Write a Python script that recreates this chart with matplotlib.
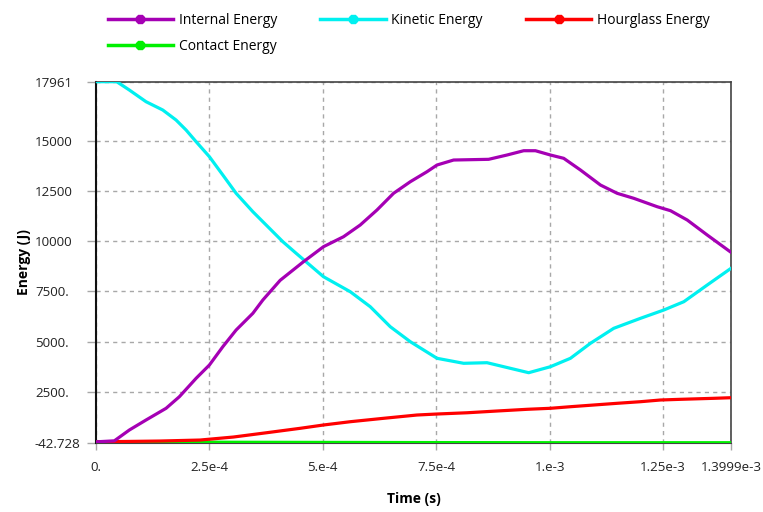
import matplotlib
matplotlib.use("Agg")
import matplotlib.pyplot as plt
from matplotlib.lines import Line2D

# time in ms (converted to s below)
t_kin = [0.0, 0.0457, 0.0735, 0.1103, 0.1472, 0.1765, 0.1986, 0.2207, 0.25, 0.2796,
         0.3089, 0.3458, 0.3824, 0.4119, 0.4413, 0.5015, 0.5605, 0.6046, 0.6487, 0.6929,
         0.7518, 0.8105, 0.862, 0.9135, 0.9539, 1.0018, 1.0459, 1.090, 1.1414, 1.2004,
         1.2518, 1.2959, 1.3475, 1.3999]
kinetic = [17961, 17961, 17546, 16963, 16549, 16050, 15551, 14968, 14220, 13307,
           12395, 11477, 10649, 9981, 9402, 8235, 7487, 6739, 5742, 4994,
           4166, 3917, 3947, 3667, 3448, 3747, 4166, 4914, 5662, 6161,
           6575, 6989, 7822, 8654]

t_int = [0.0, 0.0404, 0.0735, 0.1103, 0.1545, 0.1838, 0.2207, 0.25, 0.2796, 0.3089,
         0.3458, 0.3678, 0.406, 0.4574, 0.5015, 0.5457, 0.5825, 0.6194, 0.656, 0.6929,
         0.7297, 0.7518, 0.7884, 0.8656, 0.9062, 0.9429, 0.9687, 1.0018, 1.0311, 1.068,
         1.1121, 1.1489, 1.1856, 1.2372, 1.2666, 1.3034, 1.3475, 1.3999]
internal = [0, 50, 590, 1089, 1673, 2251, 3169, 3832, 4745, 5577,
            6410, 7073, 8056, 8983, 9732, 10230, 10814, 11562, 12395, 12973,
            13472, 13806, 14055, 14090, 14305, 14519, 14519, 14305, 14140, 13557,
            12808, 12395, 12145, 11726, 11527, 11063, 10315, 9452]

t_hg = [0.0, 0.14, 0.2295, 0.303, 0.3767, 0.4502, 0.5015, 0.5605, 0.6341, 0.7076,
        0.7518, 0.818, 0.8842, 0.9504, 1.0018, 1.0459, 1.0973, 1.1489, 1.2004, 1.2445,
        1.2886, 1.3621, 1.3999]
hourglass = [0, 40, 90, 240, 456, 675, 840, 1004, 1174, 1338,
             1388, 1450, 1538, 1623, 1673, 1752, 1837, 1922, 2002, 2087,
             2121, 2171, 2201]

t_con = [0.0, 0.3, 0.7, 1.0, 1.3999]
contact = [0, -20, -35, -42.728, -42.728]

x_ticks = [0.0, 2.5e-4, 5e-4, 7.5e-4, 1e-3, 1.25e-3, 1.3999e-3]
x_labels = ["0.", "2.5e-4", "5.e-4", "7.5e-4", "1.e-3", "1.25e-3", "1.3999e-3"]
y_ticks = [-42.728, 2500, 5000, 7500, 10000, 12500, 15000, 17961]
y_labels = ["-42.728", "2500.", "5000.", "7500.", "10000", "12500", "15000", "17961"]

names = ["Internal Energy", "Kinetic Energy", "Hourglass Energy", "Contact Energy"]
colors = ["#a500b4", "#00f0f0", "#ff0000", "#00f000"]

plt.rcParams['font.family'] = ['Open Sans', 'DejaVu Sans']

fig = plt.figure(figsize=(7.63, 5.12), dpi=100)
ax = fig.add_axes([96/763, 1-442.7/512, (731-96)/763, (442.7-81.7)/512])

s = 1e-3
lw = 2.3
ax.plot([v*s for v in t_con], contact, color=colors[3], lw=lw, zorder=3)
ax.plot([v*s for v in t_hg], hourglass, color=colors[2], lw=lw, zorder=4)
ax.plot([v*s for v in t_kin], kinetic, color=colors[1], lw=lw, zorder=5)
ax.plot([v*s for v in t_int], internal, color=colors[0], lw=lw, zorder=6)

ax.set_xlim(0, 1.3999e-3)
ax.set_ylim(-42.728, 17961)
ax.set_xticks(x_ticks)
ax.set_xticklabels(x_labels)
ax.set_yticks(y_ticks)
ax.set_yticklabels(y_labels, ha='left')
ax.grid(True, color="#a8a8a8", linestyle=(0, (3, 3)), linewidth=1)
ax.tick_params(axis='both', direction='out', color="#a8a8a8", labelsize=9.6,
               labelcolor="#222222", width=1)
ax.tick_params(axis='y', length=6.5, pad=37.5)
ax.tick_params(axis='x', length=5, pad=8)
for side in ['top', 'right']:
    ax.spines[side].set_color("#444444")
    ax.spines[side].set_linewidth(1.2)
ax.spines['left'].set_color("#111111")
ax.spines['left'].set_linewidth(1.5)
ax.spines['bottom'].set_color("#444444")

ax.set_xlabel("Time (s)", fontsize=10, fontweight='bold', labelpad=13)
ax.set_ylabel("Energy (J)", fontsize=10, fontweight='bold', labelpad=3)

handles = [Line2D([], [], color=c, lw=2.5, marker='8', markersize=7) for c in colors]
order = [0, 3, 1, 2]
fig.legend([handles[i] for i in order], [names[i] for i in order],
           loc='upper left', bbox_to_anchor=(98/763, 1 - 3/512), ncol=3, frameon=False,
           fontsize=10, handlelength=4.7, handletextpad=0.42, columnspacing=3.1,
           labelspacing=0.78, borderaxespad=0.3)

fig.savefig("out.png", dpi=100)
